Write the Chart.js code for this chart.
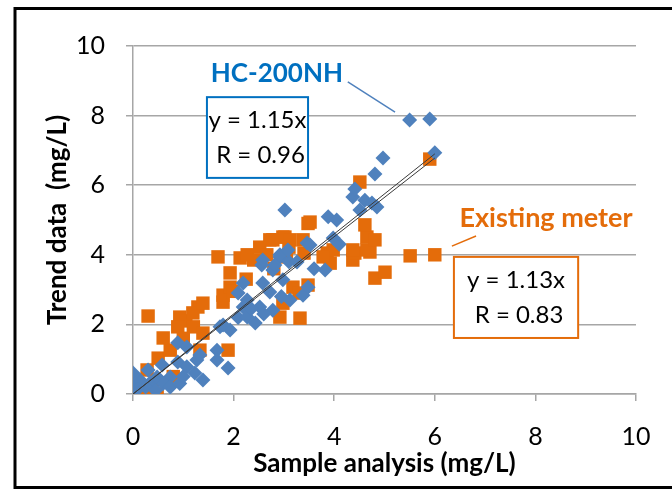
<!DOCTYPE html>
<html>
<head>
<meta charset="utf-8">
<script src="https://cdn.jsdelivr.net/npm/chart.js@4.4.0/dist/chart.umd.min.js"></script>
<style>
  html, body { margin: 0; padding: 0; background: #fff; }
  #wrap { width: 672px; height: 491px; position: relative; }
</style>
</head>
<body>
<div id="wrap"><canvas id="myChart" width="672" height="491"></canvas></div>
<script>
// HC-200NH (sample analysis, trend data)
var hcX = [0, 0, 0.02, 0.14, 0.1, 0.3, 0.34, 0.25, 0.58, 0.48, 0.74, 0.6, 0.74, 0.93, 0.89, 1.07, 0.89, 1.07, 1.27, 1.33,
           1.23, 1.39, 1.0, 0.45, 1.67, 1.67, 1.89, 1.73, 1.93, 2.19, 2.09, 1.79, 2.27, 2.43, 2.52, 2.78, 2.27, 2.09, 2.19, 2.58,
           2.72, 2.95, 3.12, 3.38, 3.48, 3.82, 2.56, 2.92, 3.1, 2.78, 2.98, 2.58, 2.82, 3.26, 2.92, 3.08, 3.46, 3.52, 3.98, 3.02,
           3.88, 4.05, 4.51, 4.85, 4.61, 4.75, 4.37, 4.41, 4.81, 4.97, 5.5, 5.9, 6.0, 3.6, 4.1, 2.35, 2.6];
var hcY = [0.6, 0.26, 0.1, 0.4, 0.15, 0.69, 0.32, 0.2, 0.83, 0.49, 0.49, 0.3, 0.2, 0.3, 1.47, 1.35, 0.92, 0.78, 0.98, 1.12,
           0.6, 0.4, 0.5, 0.1, 1.26, 0.98, 0.75, 1.93, 1.84, 2.5, 2.2, 1.98, 2.21, 2.04, 2.5, 2.41, 2.7, 2.9, 3.19, 3.19,
           2.93, 2.8, 2.7, 2.84, 3.07, 3.56, 3.71, 3.94, 3.8, 3.56, 3.28, 3.85, 3.71, 3.79, 4.0, 4.14, 4.34, 4.28, 4.48, 5.29,
           5.09, 5.0, 5.29, 5.37, 5.57, 5.49, 5.66, 5.89, 6.32, 6.78, 7.87, 7.9, 6.93, 3.6, 4.3, 2.45, 2.3];

// Existing meter
var emX = [0, 0.14, 0.3, 0.48, 0, 0.38, 0.1, 0.28, 0.5, 0.74, 0.6, 0.3, 0.93, 1.05, 1.29, 0.89, 1.2, 1.39, 1.33, 1.89,
           1.79, 1.0, 0.8, 1.19, 1.39, 1.79, 1.93, 1.99, 1.93, 1.69, 2.13, 2.27, 2.52, 2.72, 2.98, 2.4, 2.66, 3.05, 3.1, 2.8,
           2.78, 3.02, 3.12, 3.38, 3.18, 3.3, 2.98, 2.92, 3.48, 3.48, 3.52, 3.86, 3.98, 3.92, 3.78, 3.4, 4.37, 4.41, 4.71, 4.37,
           4.65, 4.65, 4.81, 4.61, 4.51, 4.81, 5.01, 5.51, 6.0, 5.9, 3.32, 2.25];
var emY = [0, 0, 0, 0, 0.2, 0.1, 0.1, 0.69, 1.03, 1.26, 1.61, 2.24, 2.21, 2.1, 2.5, 1.93, 1.93, 1.75, 1.26, 1.26,
           2.64, 1.6, 0.5, 2.33, 2.61, 2.84, 3.07, 2.95, 3.48, 3.94, 3.91, 4.0, 4.22, 4.43, 4.51, 3.85, 4.0, 3.94, 4.22, 3.6,
           4.43, 4.51, 4.43, 4.43, 3.07, 2.9, 2.61, 2.21, 3.13, 4.9, 4.94, 4.05, 4.14, 3.76, 3.94, 4.05, 3.85, 4.05, 4.08, 4.14,
           4.14, 4.51, 4.43, 4.86, 6.09, 3.33, 3.5, 3.97, 4.0, 6.75, 2.18, 3.3];

// trend line end points
var trendHcX = [0, 6.0];
var trendHcY = [0, 6.9];
var trendEmX = [0, 6.0];
var trendEmY = [0, 6.78];

var tickValues = [0, 2, 4, 6, 8, 10];

function pts(xs, ys) {
    return xs.map(function(x, i) { return {x: x, y: ys[i]}; });
}

var FONT = 'Lato, "Open Sans", sans-serif';
var BLUE = '#4F81BD';
var ORANGE = '#E46C0A';
var GRID = '#A6A6A6';

// labels, boxes and leader lines, placed in data units
var notes = [
    {type: 'text', text: 'HC-200NH', x: 2.86, y: 9.22, color: '#0070C0', size: 26},
    {type: 'line', x1: 4.27, y1: 8.97, x2: 5.21, y2: 8.10, color: BLUE},
    {type: 'box', x1: 1.47, y1: 8.53, x2: 3.48, y2: 6.21, color: '#0070C0', lines: ['y = 1.15x', 'R = 0.96']},
    {type: 'text', text: 'Existing meter', x: 8.21, y: 5.06, color: ORANGE, size: 27},
    {type: 'line', x1: 6.34, y1: 4.25, x2: 6.82, y2: 4.54, color: ORANGE},
    {type: 'box', x1: 6.38, y1: 3.94, x2: 8.85, y2: 1.61, color: ORANGE, lines: ['y = 1.13x', 'R = 0.83']}
];

var notesPlugin = {
    id: 'notes',
    beforeDraw: function(chart) {
        var c = chart.ctx;
        c.save();
        c.strokeStyle = '#000';
        c.lineWidth = 3;
        c.strokeRect(15, 8.5, 700, 479);
        c.restore();
    },
    afterDraw: function(chart) {
        var c = chart.ctx, xs = chart.scales.x, ys = chart.scales.y;
        c.save();
        notes.forEach(function(n) {
            if (n.type === 'text') {
                c.font = 'bold ' + n.size + 'px ' + FONT;
                c.fillStyle = n.color;
                c.textAlign = 'center';
                c.textBaseline = 'middle';
                c.fillText(n.text, xs.getPixelForValue(n.x), ys.getPixelForValue(n.y));
            } else if (n.type === 'line') {
                c.strokeStyle = n.color;
                c.lineWidth = 1.5;
                c.beginPath();
                c.moveTo(xs.getPixelForValue(n.x1), ys.getPixelForValue(n.y1));
                c.lineTo(xs.getPixelForValue(n.x2), ys.getPixelForValue(n.y2));
                c.stroke();
            } else {
                var l = xs.getPixelForValue(n.x1), r = xs.getPixelForValue(n.x2);
                var t = ys.getPixelForValue(n.y1), b = ys.getPixelForValue(n.y2);
                c.fillStyle = '#fff';
                c.fillRect(l, t, r - l, b - t);
                c.strokeStyle = n.color;
                c.lineWidth = 2;
                c.strokeRect(l, t, r - l, b - t);
                c.font = '24px ' + FONT;
                c.fillStyle = '#000';
                c.textAlign = 'center';
                c.textBaseline = 'middle';
                var h = (b - t) / 2;
                c.fillText(n.lines[0], (l + r) / 2, t + h * 0.58);
                c.fillText(n.lines[1], (l + r) / 2 + 3, t + h * 1.45);
            }
        });
        c.restore();
    }
};

var ctx = document.getElementById('myChart').getContext('2d');
var chart = new Chart(ctx, {
    type: 'scatter',
    data: {
        datasets: [{
            label: 'trend HC-200NH',
            type: 'line',
            data: pts(trendHcX, trendHcY),
            borderColor: '#3a3a3a',
            borderWidth: 1,
            pointRadius: 0,
            order: 0
        }, {
            label: 'trend Existing meter',
            type: 'line',
            data: pts(trendEmX, trendEmY),
            borderColor: '#3a3a3a',
            borderWidth: 1,
            pointRadius: 0,
            order: 0
        }, {
            label: 'HC-200NH',
            data: pts(hcX, hcY),
            pointStyle: 'rectRot',
            pointRadius: 7.5,
            backgroundColor: BLUE,
            borderColor: BLUE,
            borderWidth: 0,
            order: 1
        }, {
            label: 'Existing meter',
            data: pts(emX, emY),
            pointStyle: 'rect',
            pointRadius: 9.5,
            backgroundColor: ORANGE,
            borderColor: ORANGE,
            borderWidth: 0,
            order: 2
        }]
    },
    plugins: [notesPlugin],
    options: {
        responsive: false,
        animation: false,
        events: [],
        layout: { padding: { left: 16, top: 46, right: 36, bottom: 0 } },
        plugins: {
            legend: { display: false },
            tooltip: { enabled: false }
        },
        scales: {
            x: {
                type: 'linear',
                min: 0,
                max: 10,
                afterBuildTicks: function(s) { s.ticks = tickValues.map(function(v) { return {value: v}; }); },
                afterFit: function(s) { s.height = 97; },
                grid: { drawOnChartArea: false, drawTicks: true, tickLength: 7, color: GRID, lineWidth: 1.5 },
                border: { display: true, color: GRID, width: 1.5 },
                ticks: { color: '#000', padding: 21, font: { family: FONT, size: 25 }, maxRotation: 0 },
                title: {
                    display: true,
                    text: 'Sample analysis (mg/L)',
                    color: '#000',
                    font: { family: FONT, size: 26, weight: 'bold' },
                    padding: { top: 0, bottom: 12 }
                }
            },
            y: {
                type: 'linear',
                min: 0,
                max: 10,
                afterBuildTicks: function(s) { s.ticks = tickValues.map(function(v) { return {value: v}; }); },
                afterFit: function(s) { s.width = 117; },
                grid: { drawTicks: true, tickLength: 7, color: GRID, lineWidth: 1.5 },
                border: { display: true, color: GRID, width: 1.5 },
                ticks: { color: '#000', padding: 21, font: { family: FONT, size: 25 } },
                title: {
                    display: true,
                    text: 'Trend data  (mg/L)',
                    color: '#000',
                    font: { family: FONT, size: 26, weight: 'bold' },
                    padding: { top: 26, bottom: 0 }
                }
            }
        }
    }
});
</script>
</body>
</html>
